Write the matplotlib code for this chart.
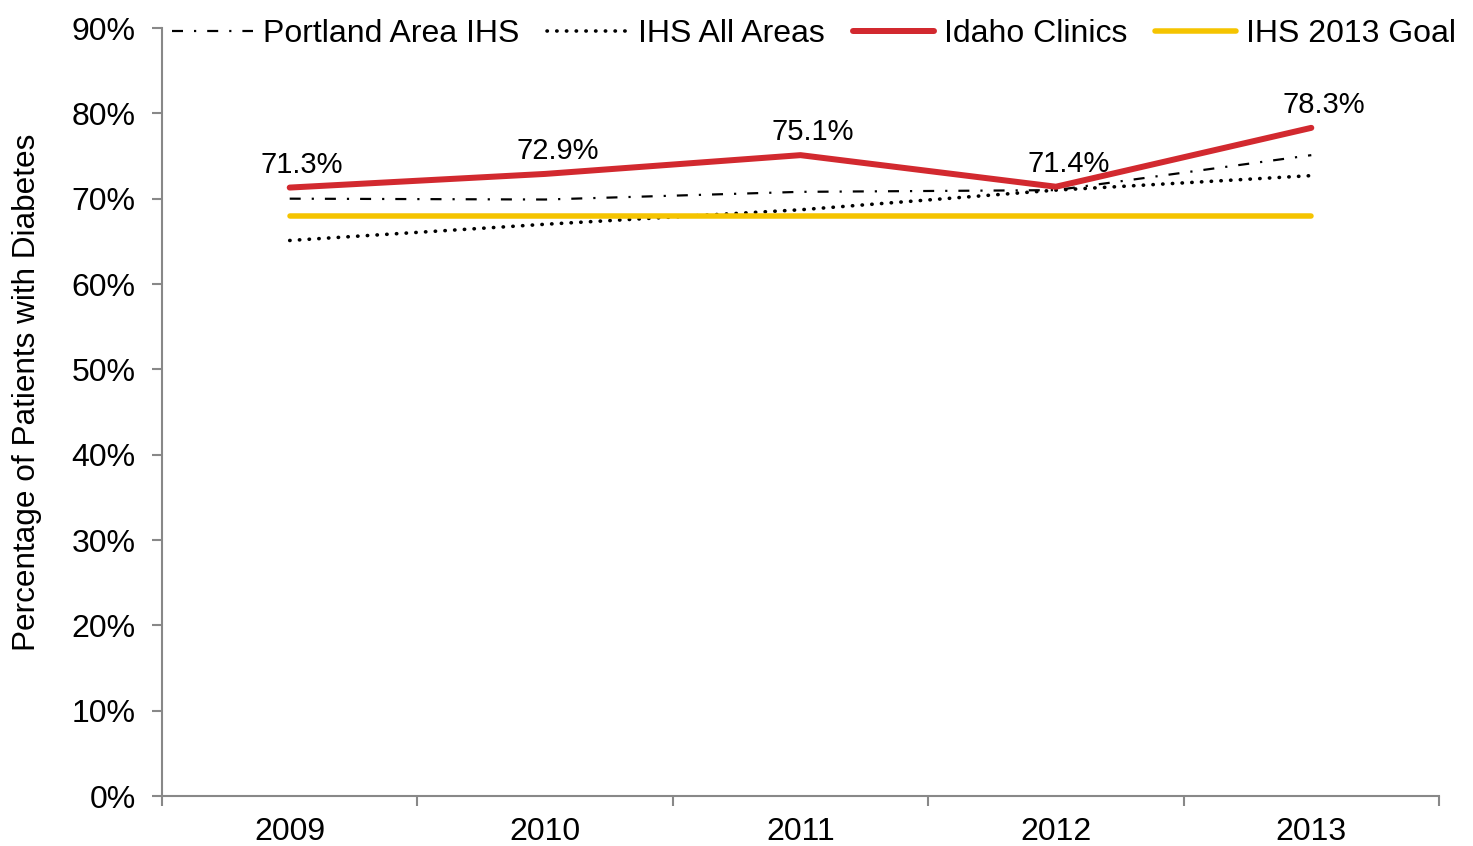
import matplotlib

matplotlib.use("Agg")
import matplotlib.pyplot as plt
import numpy as np

plt.rcParams["font.family"] = ["Liberation Sans", "DejaVu Sans"]

years = ["2009", "2010", "2011", "2012", "2013"]
portland = [70.0, 69.9, 70.8, 71.0, 75.1]
ihs_all = [65.1, 67.0, 68.7, 71.0, 72.7]
idaho = [71.3, 72.9, 75.1, 71.4, 78.3]
goal = [68.0, 68.0, 68.0, 68.0, 68.0]

x = np.arange(len(years))
px = 72 / 100  # points per pixel at dpi 100

fig = plt.figure(figsize=(14.73, 8.46), dpi=100)
ax = fig.add_axes([162 / 1473, 1 - 796 / 846, (1439 - 162) / 1473, (796 - 28) / 846])

ax.plot(x, portland, color="black", lw=2.2 * px, dashes=(5, 5, 1, 5), label="Portland Area IHS")
ax.plot(x, ihs_all, color="black", lw=3.6 * px, dashes=(0.1, 2.6), dash_capstyle="round", label="IHS All Areas")
ax.plot(x, idaho, color="#D2292F", lw=6 * px, solid_capstyle="round", label="Idaho Clinics")
ax.plot(x, goal, color="#F5C400", lw=5.5 * px, solid_capstyle="round", label="IHS 2013 Goal")

for xi, v in zip(x, idaho):
    ax.annotate(f"{v:.1f}%", (xi, v), xytext=(9, 6.5), textcoords="offset points",
                ha="center", va="bottom", fontsize=21)

ax.set_xlim(-0.5, len(years) - 0.5)
ax.set_ylim(0, 90)
ax.set_yticks(np.arange(0, 91, 10))
ax.set_yticklabels([f"{v}%" for v in range(0, 91, 10)], fontsize=23)
ax.set_xticks(x)
ax.set_xticklabels(years, fontsize=23)
ax.set_xticks(np.arange(-0.5, len(years)), minor=True)
ax.tick_params(axis="x", which="major", length=0, pad=15)
ax.tick_params(axis="x", which="minor", length=7, color="#888888", width=1.5)
ax.tick_params(axis="y", length=7, color="#888888", width=1.5, pad=12)
for s in ("top", "right"):
    ax.spines[s].set_visible(False)
for s in ("left", "bottom"):
    ax.spines[s].set_color("#888888")
    ax.spines[s].set_linewidth(1.5)
ax.set_ylabel("Percentage of Patients with Diabetes", fontsize=22.7)
ax.yaxis.set_label_coords(-0.094, 0.525)

fig.legend(loc="center left", bbox_to_anchor=(172 / 1473, 1 - 34 / 846), ncol=4, frameon=False,
           fontsize=23, handlelength=2.55, handletextpad=0.29, columnspacing=0.88,
           borderpad=0, borderaxespad=0)

fig.savefig("out.png", dpi=100)
